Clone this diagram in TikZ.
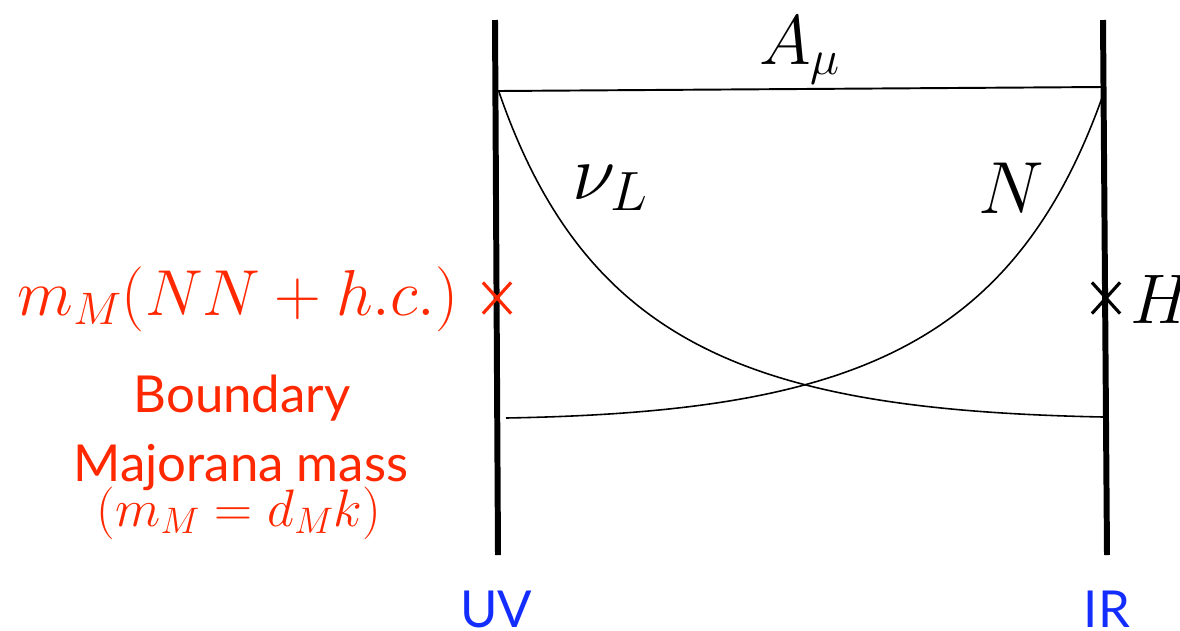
\RequirePackage{fix-cm}
\documentclass[tikz,border=0pt]{standalone}
\usepackage{fontspec}
\setsansfont{Lato}
\usepackage{tikz}
\usetikzlibrary{positioning,shapes.misc}
\definecolor{massred}{RGB}{255,40,0}
\definecolor{braneblue}{RGB}{20,45,255}

\begin{document}
\begin{tikzpicture}[
  x=0.02cm, y=-0.02cm,
  brane/.style={line width=3.4pt},
  prop/.style={line width=0.9pt},
  insert/.style={cross out, draw=#1, line width=1.8pt, minimum width=0.5cm, minimum height=0.56cm, inner sep=0pt},
  fieldlbl/.style={inner sep=0pt, font=\fontsize{#1}{#1}\selectfont},
  bigsf/.style={inner sep=0pt, font=\fontsize{29}{34}\selectfont\sffamily, text=#1}
]
  \useasboundingbox (0,0) rectangle (1180,630);

  % branes
  \coordinate (uvTop) at (495,20);
  \coordinate (uvBot) at (498,555);
  \coordinate (irTop) at (1103,20);
  \coordinate (irBot) at (1107,555);
  \draw[brane] (uvTop) -- (uvBot);
  \draw[brane] (irTop) -- (irBot);
  \node[bigsf=braneblue, anchor=base] (uv) at (496,627) {UV};
  \node[bigsf=braneblue, anchor=base] (ir) at (1107,627) {IR};

  % propagators
  \coordinate (gaugeL) at (498,91);
  \coordinate (gaugeR) at (1103,87);
  \coordinate (nuStart) at (499,92);
  \coordinate (nuEnd) at (1103,417);
  \coordinate (nStart) at (1103,95);
  \coordinate (nEnd) at (506,418);
  \draw[line width=1.1pt] (gaugeL) -- (gaugeR);
  \draw[prop] (nuStart) .. controls (588,350) and (760,410) .. (nuEnd);
  \draw[prop] (nStart) .. controls (1012,352) and (842,412) .. (nEnd);

  \node[fieldlbl=40, anchor=base] (gauge) at (800,64) {$A_\mu$};
  \node[fieldlbl=45, anchor=base] (nuL) at (610,199) {$\nu_L$};
  \node[fieldlbl=42, anchor=base] (nR) at (1011,213) {$N$};

  % mass insertions
  \node[insert=massred] (uvMass) at (497,298) {};
  \node[insert=black] (irMass) at (1106,298) {};
  \node[fieldlbl=40, anchor=base west] (higgs) at (1130,323) {$H$};

  \node[fieldlbl=37, anchor=base east, text=massred] (massTerm) at (459,315) {$m_M(NN+h.c.)$};
  \node[bigsf=massred, anchor=base] (bdry) at (242,412) {Boundary};
  \node[bigsf=massred, anchor=base] (major) at (241,481) {Majorana mass};
  \node[fieldlbl=30, anchor=base, text=massred] (dM) at (239,526) {$(m_M=d_Mk)$};
\end{tikzpicture}
\end{document}
